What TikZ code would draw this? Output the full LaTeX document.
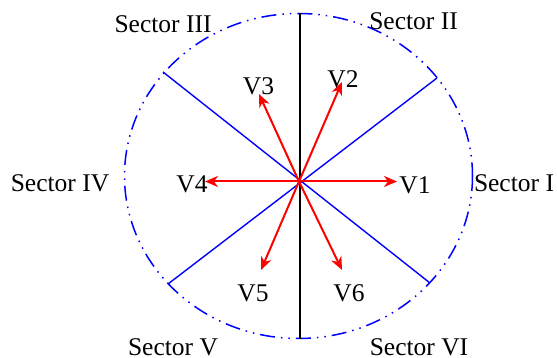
\documentclass[tikz,border=0pt]{standalone}
\usepackage{fontspec}
\setmainfont{Liberation Serif}
\usetikzlibrary{arrows.meta}
\begin{document}
\begin{tikzpicture}[x=1pt,y=-1pt,
  lbl/.style={font=\fontsize{25.5}{28}\selectfont, inner sep=0pt, anchor=base},
  vec/.style={draw=red, line width=2pt, -{Stealth[length=13pt,width=11pt,inset=4pt]}},
  sect/.style={draw=blue, line width=1.4pt},
  ring/.style={draw=blue, line width=1.5pt, dash pattern=on 15pt off 6pt on 1.5pt off 6pt on 1.5pt off 6pt},
  axisline/.style={draw=black, line width=1.4pt}]
\useasboundingbox (0,0) rectangle (557,358);
% circle (drawn as ellipse in pixel units)
\coordinate (C) at (298.5,176);
\draw[ring] (C) ellipse [x radius=174, y radius=162.5];
% center of vectors
\coordinate (O) at (299,181.5);
% vertical line
\coordinate (T) at (300,13);
\coordinate (B) at (300,339);
\draw[axisline] (T) -- (B);
% sector boundaries
\coordinate (UL) at (163,72);
\coordinate (LR) at (430,283);
\coordinate (UR) at (437,78);
\coordinate (LL) at (168,284);
\draw[sect] (UL) -- (LR);
\draw[sect] (UR) -- (LL);
% vectors
\coordinate (P1) at (397,181.5);
\coordinate (P2) at (342,82);
\coordinate (P3) at (259,94);
\coordinate (P4) at (205,181.5);
\coordinate (P5) at (261,270);
\coordinate (P6) at (342,270);
\draw[vec] (O) -- (P1);
\draw[vec] (O) -- (P2);
\draw[vec] (O) -- (P3);
\draw[vec] (O) -- (P4);
\draw[vec] (O) -- (P5);
\draw[vec] (O) -- (P6);
% vector labels
\node[lbl] (L1) at (415,194) {V1};
\node[lbl] (L2) at (343,88) {V2};
\node[lbl] (L3) at (258.5,95) {V3};
\node[lbl] (L4) at (192,193) {V4};
\node[lbl] (L5) at (253,301) {V5};
\node[lbl] (L6) at (349,301) {V6};
% sector labels
\node[lbl] (S1) at (514,192) {Sector I};
\node[lbl] (S2) at (413.5,30) {Sector II};
\node[lbl] (S3) at (163,33) {Sector III};
\node[lbl] (S4) at (60,192) {Sector IV};
\node[lbl] (S5) at (173,355) {Sector V};
\node[lbl] (S6) at (419,355) {Sector VI};
\end{tikzpicture}
\end{document}
